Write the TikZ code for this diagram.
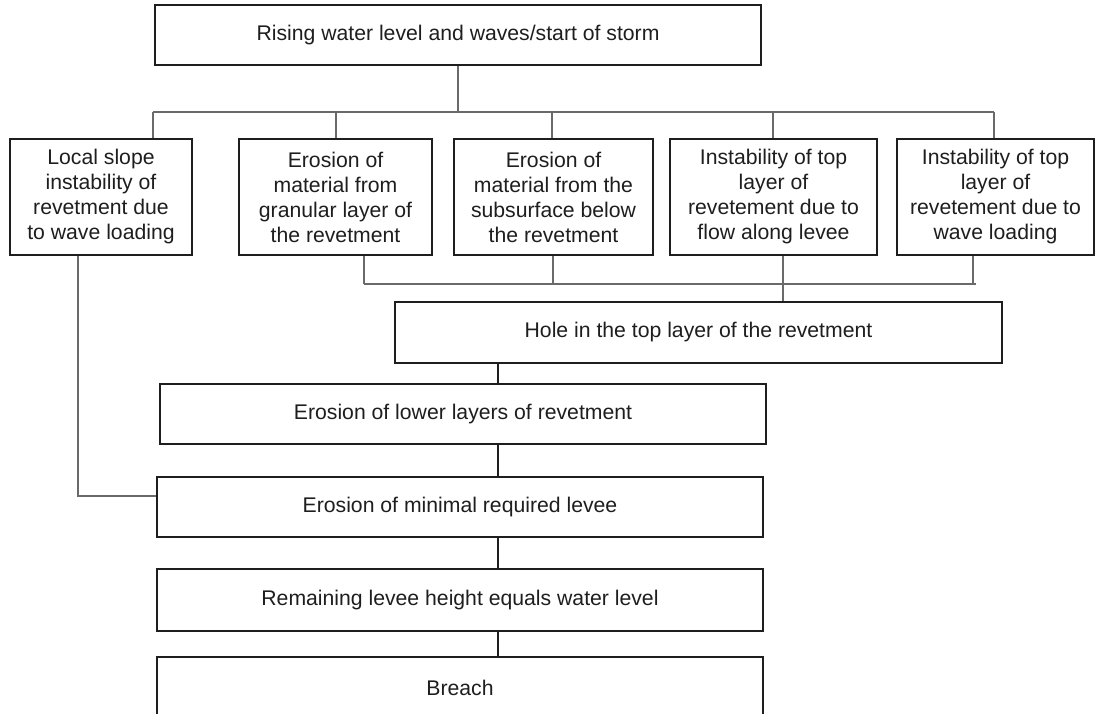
\documentclass[tikz,border=0pt]{standalone}
\usepackage{fontspec}
\setmainfont{Liberation Sans}
\definecolor{ink}{HTML}{1E1E1E}
\definecolor{wirecol}{HTML}{6A6A6A}
\begin{document}
\begin{tikzpicture}[x=1pt, y=-1pt,
  box/.style={draw=ink, line width=1.8pt, text=ink, align=center, inner sep=0pt,
    font=\fontsize{21.2}{25}\selectfont, minimum height=60pt},
  wire/.style={draw=wirecol, line width=1.4pt}]
\clip (0,0) rectangle (1097,714);
\fill[white] (0,0) rectangle (1097,714);
\node[box, minimum width=606pt] (a) at (458,35) {Rising water level and waves/start of storm};
\node[box, minimum width=182pt, minimum height=116pt] (b1) at (101,197) {Local slope\\instability of\\revetment due\\to wave loading};
\node[box, minimum width=193pt, minimum height=116pt] (b2) at (335.5,197) {Erosion of\\material from\\granular layer of\\the revetment};
\node[box, minimum width=199pt, minimum height=116pt] (b3) at (553.5,197) {Erosion of\\material from the\\subsurface below\\the revetment};
\node[box, minimum width=207pt, minimum height=116pt] (b4) at (773.5,197) {Instability of top\\layer of\\revetement due to\\flow along levee};
\node[box, minimum width=197pt, minimum height=116pt] (b5) at (995.5,197) {Instability of top\\layer of\\revetement due to\\wave loading};
\node[box, minimum width=607pt, minimum height=61pt] (c) at (698.5,332.5) {Hole in the top layer of the revetment};
\node[box, minimum width=606pt] (d) at (463,414) {Erosion of lower layers of revetment};
\node[box, minimum width=606pt] (e) at (460,507) {Erosion of minimal required levee};
\node[box, minimum width=606pt, minimum height=62pt] (f) at (460,600) {Remaining levee height equals water level};
\node[box, minimum width=606pt, minimum height=62pt] (g) at (460,688) {Breach};
% upper bus
\coordinate (t1) at (153,112);
\coordinate (t2) at (336,112);
\coordinate (t3) at (552,112);
\coordinate (t4) at (773,112);
\coordinate (t5) at (994,112);
\draw[wire] (a.south) -- (a.south |- t1);
\draw[wire] (t1) -- (t5);
\foreach \i in {1,...,5}
  \draw[wire] (t\i) -- (t\i |- b\i.north);
% lower bus
\coordinate (u2) at (364,284);
\coordinate (u3) at (553,284);
\coordinate (u4) at (783,284);
\coordinate (u5) at (973,284);
\coordinate (ue) at (976,284);
\draw[wire] (u2) -- (ue);
\foreach \i in {2,3,5}
  \draw[wire] (b\i.south -| u\i) -- (u\i);
\draw[wire] (b4.south -| u4) -- (u4 |- c.north);
% main chain
\coordinate (s) at (498,0);
\draw[line width=1.6pt, draw=ink] (c.south -| s) -- (d.north -| s);
\draw[line width=1.6pt, draw=ink] (d.south -| s) -- (e.north -| s);
\draw[line width=1.6pt, draw=ink] (e.south -| s) -- (f.north -| s);
\draw[line width=1.6pt, draw=ink] (f.south -| s) -- (g.north -| s);
% side path from local slope instability
\coordinate (k) at (78,496);
\draw[wire] (b1.south -| k) -- (k) -- (k -| e.west);
\end{tikzpicture}
\end{document}
